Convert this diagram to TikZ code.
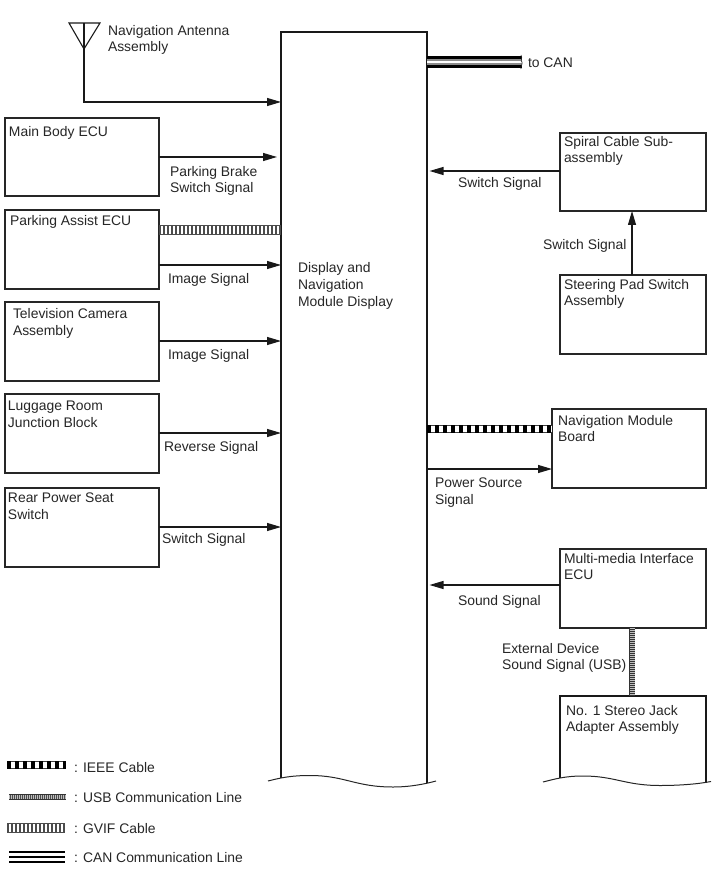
\documentclass[tikz,border=0pt]{standalone}
\usepackage{fontspec}
\setmainfont{Liberation Sans}
\usetikzlibrary{arrows.meta}
\tikzset{
  x=1pt,y=-1pt,
  box/.style={draw=black!85,line width=1.2pt,anchor=north west,inner sep=0pt,outer sep=0pt},
  txt/.style={anchor=north west,inner sep=0pt,outer sep=0pt,align=left,text=black!85,
    font=\fontsize{13.9}{16.7}\selectfont,execute at begin node={\rule{0pt}{9.7pt}}},
  wire/.style={draw=black!90,line width=1.1pt},
  arrow/.style={wire,-{Triangle[length=14pt,width=8pt]}},
  ieee/.style={draw=black,line width=8.5pt,dash pattern=on 4pt off 4pt,
    preaction={draw=black!75,line width=8.5pt,solid},
    preaction={draw=white,line width=6.5pt,solid}},
  usb/.style={draw=black!25,line width=5pt,dash pattern=on 1pt off 1pt,
    preaction={draw=black!80,line width=6pt,solid}},
  gvif/.style={draw=black!70,line width=9pt,dash pattern=on 2pt off 2pt,
    preaction={draw=black!70,line width=10pt,solid},
    preaction={draw=white,line width=8pt,solid}},
  canouter/.style={draw=black,line width=2.2pt},
  canband/.style={draw=black!45,line width=7pt},
  cancore/.style={draw=white,line width=2pt},
  legendcan/.style={draw=black,line width=1.6pt},
  edgecurve/.style={draw=black!85,line width=1pt},
}
\begin{document}
\begin{tikzpicture}
\useasboundingbox (0,0) rectangle (713,882);
% boxes
\node[box,minimum width=154pt,minimum height=78pt] (mainbody) at (5,118) {};
\node[box,minimum width=154pt,minimum height=79pt] (parking) at (5,210) {};
\node[box,minimum width=154pt,minimum height=79pt] (camera) at (5,302) {};
\node[box,minimum width=154pt,minimum height=79pt] (luggage) at (5,394) {};
\node[box,minimum width=154pt,minimum height=79pt] (rear) at (5,488) {};
\node[box,minimum width=146pt,minimum height=78pt] (spiral) at (560,133) {};
\node[box,minimum width=146pt,minimum height=79pt] (steering) at (560,275) {};
\node[box,minimum width=154pt,minimum height=79pt] (navboard) at (552,409) {};
\node[box,minimum width=146pt,minimum height=79pt] (multi) at (560,549) {};
% open-bottomed boxes: nodes fix the anchors, the paths draw them
\node[anchor=north west,minimum width=146pt,minimum height=746pt,inner sep=0pt,outer sep=0pt] (display) at (281,32) {};
\node[anchor=north west,minimum width=146pt,minimum height=82pt,inner sep=0pt,outer sep=0pt] (stereo) at (560,696) {};
\draw[wire,line width=1.2pt] (281,778) -- (281,32) -- (427,32) -- (427,783);
\draw[edgecurve] (268,781) .. controls (280,778) and (290,775.5) .. (310,775.5)
  .. controls (345,775.5) and (355,787) .. (393,787) .. controls (410,787) and (425,784) .. (436,781);
\draw[wire,line width=1.2pt] (560,778) -- (560,696) -- (706,696) -- (706,783);
\draw[edgecurve] (543,782) .. controls (555,779) and (565,776) .. (583,776)
  .. controls (615,776) and (625,785.5) .. (660,785.5) .. controls (680,785.5) and (698,784) .. (711,781.5);
% antenna
\coordinate (antA) at (69,23);
\coordinate (antB) at (100,23);
\coordinate (antTip) at (84,49);
\coordinate (antBend) at (84,102);
\draw[wire] (antTip) -- (antA) -- (antB) -- cycle;
\draw[arrow] (84,23) -- (antBend) -- (display.west |- antBend);
% arrows
\draw[arrow] (mainbody.east |- 0,157) -- (277,157);
\draw[arrow] (parking.east |- 0,265) -- (display.west |- 0,265);
\draw[arrow] (camera.east |- 0,341) -- (display.west |- 0,341);
\draw[arrow] (luggage.east |- 0,433) -- (display.west |- 0,433);
\draw[arrow] (rear.east |- 0,527) -- (display.west |- 0,527);
\draw[arrow] (spiral.west |- 0,171) -- (429.5,171);
\draw[arrow] (steering.north -| 632,0) -- (spiral.south -| 632,0);
\draw[arrow] (display.east |- 0,469) -- (navboard.west |- 0,469);
\draw[arrow] (multi.west |- 0,585) -- (429.5,585);
% cables
\draw[gvif] (parking.east |- 0,230) -- (display.west |- 0,230);
\draw[ieee] (display.east |- 0,429) -- (navboard.west |- 0,429);
\draw[usb] (multi.south -| 632,0) -- (stereo.north -| 632,0);
\coordinate (canEnd) at (522,62);
\draw[canband] (display.east |- 0,62) -- (canEnd);
\draw[cancore] (display.east |- 0,62) -- (canEnd);
\draw[canouter] (display.east |- 0,57.5) -- (canEnd |- 0,57.5);
\draw[canouter] (display.east |- 0,66.5) -- (canEnd |- 0,66.5);
\draw[draw=black!85,line width=.6pt] (521,55) .. controls (523,58) and (520,61) .. (522,62) .. controls (523,64) and (520,67) .. (521,69);
% legend samples
\coordinate (l1a) at (7,765); \coordinate (l1b) at (66,765);
\coordinate (l2a) at (9,797); \coordinate (l2b) at (66,797);
\coordinate (l3a) at (7,827.5); \coordinate (l3b) at (65,827.5);
\draw[ieee] (l1a) -- (l1b);
\draw[usb,line width=3.8pt,preaction={draw=black!70,line width=4.5pt,solid}] (l2a) -- (l2b);
\draw[gvif] (l3a) -- (l3b);
\coordinate (l4a) at (9,852); \coordinate (l4b) at (65,852);
\coordinate (l5a) at (9,857); \coordinate (l5b) at (65,857);
\coordinate (l6a) at (9,862); \coordinate (l6b) at (65,862);
\draw[legendcan] (l4a) -- (l4b);
\draw[legendcan] (l5a) -- (l5b);
\draw[legendcan] (l6a) -- (l6b);
% texts
\node[txt] (tAnt) at (108,25) {Navigation Antenna\\Assembly};
\node[txt] (tCan) at (528,58) {to CAN};
\node[txt] (tMain) at (9,126) {Main Body ECU};
\node[txt] (tPba) at (170,166) {Parking Brake\\Switch Signal};
\node[txt] (tPark) at (10,215) {Parking Assist ECU};
\node[txt] (tImg) at (168,273) {Image Signal};
\node[txt] (tCam) at (13,308) {Television Camera\\[1.2pt]Assembly};
\node[txt] (tImg2) at (168,349) {Image Signal};
\node[txt] (tLug) at (8,401) {Luggage Room\\Junction Block};
\node[txt] (tRev) at (164,441) {Reverse Signal};
\node[txt] (tRear) at (8,493) {Rear Power Seat\\Switch};
\node[txt] (tSw) at (162,533) {Switch Signal};
\node[txt] (tDisp) at (298,262) {Display and\\[.6pt]Navigation\\[.6pt]Module Display};
\node[txt] (tSpiral) at (564,136) {Spiral Cable Sub-\\assembly};
\node[txt] (tSw2) at (458,177) {Switch Signal};
\node[txt] (tSw3) at (543,239) {Switch Signal};
\node[txt] (tSteer) at (564,279) {Steering Pad Switch\\Assembly};
\node[txt] (tNav) at (558,415) {Navigation Module\\Board};
\node[txt] (tPow) at (435,478) {Power Source\\Signal};
\node[txt] (tMulti) at (564,553) {Multi-media Interface\\ECU};
\node[txt] (tSnd) at (458,595) {Sound Signal};
\node[txt] (tExt) at (502,643) {External Device\\Sound Signal (USB)};
\node[txt] (tSt) at (566,705) {No. 1 Stereo Jack\\Adapter Assembly};
\node[txt] (tL1) at (74,762) {: IEEE Cable};
\node[txt] (tL2) at (74,792) {: USB Communication Line};
\node[txt] (tL3) at (74,823) {: GVIF Cable};
\node[txt] (tL4) at (74,852) {: CAN Communication Line};
\end{tikzpicture}
\end{document}
